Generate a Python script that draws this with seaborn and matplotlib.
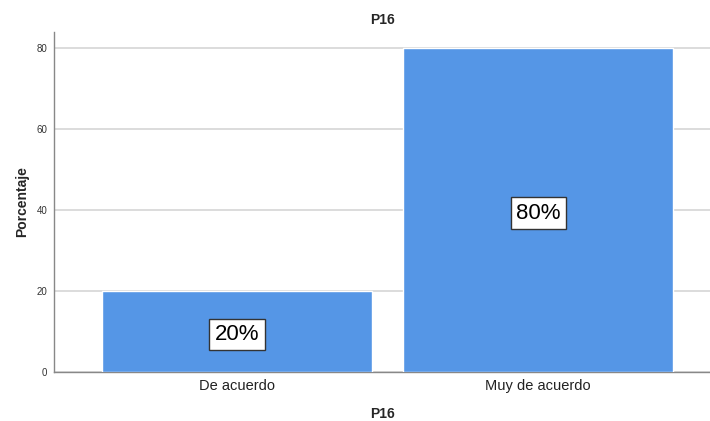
import matplotlib
matplotlib.use("Agg")
import matplotlib.pyplot as plt
import matplotlib.transforms as mtransforms
import seaborn as sns
import pandas as pd

categories = ["De acuerdo", "Muy de acuerdo"]
percentages = [20, 80]
yticks = [0, 20, 40, 60, 80]

sns.set_theme(style="white")
plt.rcParams["font.family"] = ["Liberation Sans", "DejaVu Sans"]

df = pd.DataFrame({"P16": categories, "Porcentaje": percentages})

fig = plt.figure(figsize=(7.1, 4.21), dpi=100)
ax = fig.add_axes([0.0761, 0.1164, 0.9239, 0.8076])

sns.barplot(data=df, x="P16", y="Porcentaje", order=categories,
            color="#5596E6", saturation=1, width=0.897, ax=ax, zorder=3)

ax.set_ylim(0, 84)
ax.set_xlim(-0.608, 1.571)
ax.set_yticks(yticks)
ax.set_yticklabels([str(t) for t in yticks], fontsize=7, color="#333333")
ax.tick_params(axis="y", length=0, pad=5)
ax.tick_params(axis="x", length=0, pad=5, labelsize=10.5, labelcolor="#222222")

ax.yaxis.grid(True, color="#d9d9d9", linewidth=1.3, zorder=0)
ax.set_axisbelow(True)
for side in ("top", "right"):
    ax.spines[side].set_visible(False)
for side in ("left", "bottom"):
    ax.spines[side].set_color("#888888")
    ax.spines[side].set_linewidth(1.0)

# value labels sit a little below the bar's midpoint
shift = mtransforms.offset_copy(ax.transData, fig=fig, x=0, y=-3, units="dots")
for i, v in enumerate(percentages):
    ax.text(i, v / 2, f"{v:.0f}%", ha="center", va="center", fontsize=16,
            color="black", zorder=5, transform=shift,
            bbox=dict(boxstyle="square,pad=0.24", facecolor="white",
                      edgecolor="#333333", linewidth=1))

ax.set_title("P16", fontsize=10, fontweight="bold", pad=6)
ax.set_xlabel("P16", fontsize=10, fontweight="bold", labelpad=10)
ax.set_ylabel("Porcentaje", fontsize=10, fontweight="bold", labelpad=5)

fig.savefig("out.png", dpi=100)
